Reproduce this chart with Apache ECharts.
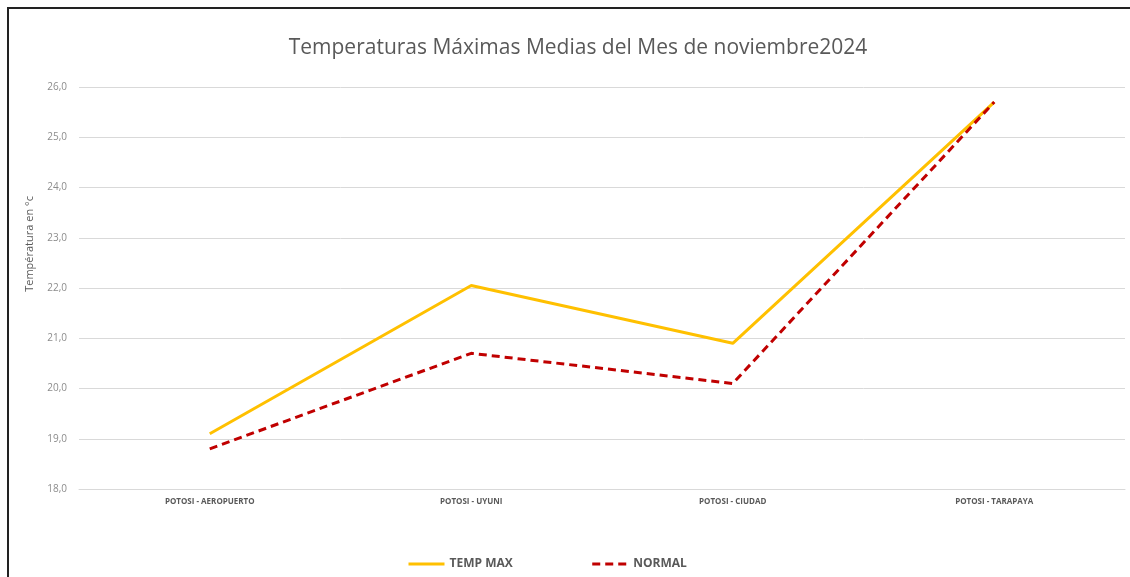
<!DOCTYPE html>
<html>
<head>
<meta charset="utf-8">
<script src="https://cdn.jsdelivr.net/npm/echarts@6/dist/echarts.min.js"></script>
<style>
  html, body { margin: 0; padding: 0; background: #fff; }
  #chart { width: 1130px; height: 577px; }
  .frame {
    position: absolute; left: 7px; top: 7px; right: 0; bottom: 0;
    border-left: 2px solid #222; border-top: 2px solid #222;
    pointer-events: none;
  }
</style>
</head>
<body>
<div id="chart"></div>
<div class="frame"></div>
<script>
const categories = ["POTOSI - AEROPUERTO", "POTOSI - UYUNI", "POTOSI - CIUDAD", "POTOSI - TARAPAYA"];
const tempMax = [19.1, 22.05, 20.9, 25.7];
const normal = [18.8, 20.7, 20.1, 25.7];

const chart = echarts.init(document.getElementById("chart"));
const font = "'Open Sans', 'Noto Sans', sans-serif";

chart.setOption({
  animation: false,
  textStyle: { fontFamily: font },
  title: {
    text: "Temperaturas Máximas Medias del Mes de noviembre2024",
    left: 573,
    textAlign: "center",
    top: 33,
    textStyle: { fontSize: 21, fontWeight: "normal", color: "#595959", fontFamily: font },
  },
  grid: { left: 79, right: 5, top: 87, bottom: 88 },
  legend: {
    left: 402,
    top: 553,
    itemWidth: 36,
    itemHeight: 14,
    itemGap: 78,
    itemStyle: { opacity: 0 },
    lineStyle: { width: 3 },
    textStyle: { fontSize: 12, fontWeight: "bold", color: "#595959" },
    data: ["TEMP MAX", "NORMAL"],
  },
  graphic: [
    {
      type: "text",
      left: 24,
      top: 196,
      rotation: Math.PI / 2,
      style: {
        text: "Températura en °c",
        fill: "#595959",
        font: "11px " + font,
      },
    },
  ],
  xAxis: {
    type: "category",
    data: categories,
    boundaryGap: true,
    axisTick: { show: false },
    axisLine: { lineStyle: { color: "#d9d9d9", width: 1 } },
    axisLabel: { fontSize: 8, fontWeight: "bold", color: "#595959", margin: 9 },
  },
  yAxis: {
    type: "value",
    min: 18,
    max: 26,
    interval: 1,
    axisLabel: {
      fontSize: 10,
      color: "#8c8c8c",
      margin: 12,
      formatter: (v) => v.toFixed(1).replace(".", ","),
    },
    splitLine: { lineStyle: { color: "#d9d9d9", width: 1 } },
  },
  series: [
    {
      name: "TEMP MAX",
      type: "line",
      data: tempMax,
      symbol: "none",
      lineStyle: { color: "#FFC000", width: 3 },
      itemStyle: { color: "#FFC000" },
    },
    {
      name: "NORMAL",
      type: "line",
      data: normal,
      symbol: "none",
      lineStyle: { color: "#C00000", width: 3, type: [8, 5] },
      itemStyle: { color: "#C00000" },
    },
  ],
});
</script>
</body>
</html>
